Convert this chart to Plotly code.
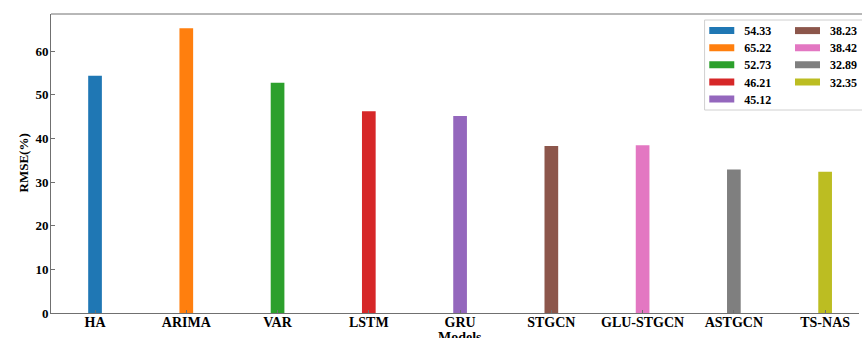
import plotly.graph_objects as go

models = ["HA", "ARIMA", "VAR", "LSTM", "GRU", "STGCN", "GLU-STGCN", "ASTGCN", "TS-NAS"]
rmse = [54.33, 65.22, 52.73, 46.21, 45.12, 38.23, 38.42, 32.89, 32.35]
legend_labels = ["54.33", "65.22", "52.73", "46.21", "45.12", "38.23", "38.42", "32.89", "32.35"]
colors = ["#1f77b4", "#ff7f0e", "#2ca02c", "#d62728", "#9467bd",
          "#8c564b", "#e377c2", "#7f7f7f", "#bcbd22"]
y_ticks = [0, 10, 20, 30, 40, 50, 60]

FONT = "Liberation Serif"
W, H = 862, 338
L, T = 51, 14
BOTTOM = 313
B = H - BOTTOM
plot_w = W - L
plot_h = H - T - B
AX = "#707070"

fig = go.Figure()
for i, (m, v) in enumerate(zip(models, rmse)):
    fig.add_trace(go.Bar(x=[i], y=[v], width=0.15, marker=dict(color=colors[i], line=dict(width=0)),
                         showlegend=False, name=m))

# legend entries: one small legend per entry, laid out in two columns
legend_layouts = {}
row_y0, row_pitch = 30.6, 17.1
for i, lab in enumerate(legend_labels):
    col = 0 if i < 5 else 1
    row = i if i < 5 else i - 5
    lname = "legend" if i == 0 else f"legend{i+1}"
    fig.add_trace(go.Scatter(x=[None], y=[None], mode="lines", name=lab,
                             line=dict(color=colors[i], width=7, dash="25px,200px"),
                             showlegend=True, legend=lname))
    lx = (706.7 - L) / plot_w if col == 0 else (793.0 - L) / plot_w
    ly = (BOTTOM - (row_y0 + row_pitch * row)) / plot_h
    legend_layouts[lname] = dict(x=lx, y=ly, xanchor="left", yanchor="middle",
                                 bgcolor="rgba(0,0,0,0)", borderwidth=0,
                                 font=dict(family=FONT, size=12, color="black", weight="bold"),
                                 itemclick=False, itemdoubleclick=False)

fig.update_layout(**legend_layouts)

xmin, xmax_full = -0.4825, 8.4825
full_w = 821.2
xmax_vis = xmin + (xmax_full - xmin) * plot_w / full_w

fig.update_layout(
    width=W, height=H,
    margin=dict(l=L, r=0, t=T, b=B, pad=0),
    plot_bgcolor="white", paper_bgcolor="white",
    barmode="overlay",
    font=dict(family=FONT, size=14, color="black", weight="bold"),
    xaxis=dict(range=[xmin, xmax_vis], tickmode="array", tickvals=list(range(len(models))),
               ticktext=models, ticks="inside", ticklen=3, tickwidth=1, tickcolor=AX,
               showline=True, linecolor=AX, linewidth=1, showgrid=False, zeroline=False,
               ticklabelstandoff=-4,
               tickfont=dict(family=FONT, size=14, color="black", weight="bold")),
    yaxis=dict(range=[0, 68.48], tickmode="array", tickvals=y_ticks,
               ticktext=[str(t) for t in y_ticks], ticks="inside", ticklen=3.5, tickwidth=1,
               tickcolor=AX, showline=True, linecolor=AX, linewidth=1, showgrid=False,
               zeroline=False, ticklabelstandoff=-1,
               tickfont=dict(family=FONT, size=13, color="black", weight="bold")),
    shapes=[
        dict(type="line", xref="paper", yref="paper", x0=0, x1=1.02, y0=1, y1=1,
             line=dict(color=AX, width=1)),
        dict(type="rect", xref="paper", yref="paper",
             x0=(707 - L) / plot_w, x1=1.03,
             y0=(BOTTOM - 110) / plot_h, y1=(BOTTOM - 20) / plot_h,
             line=dict(color="#d0d0d0", width=1), fillcolor="rgba(255,255,255,0.8)", layer="above"),
    ],
    annotations=[
        dict(text="Models", xref="x", yref="paper", x=(xmin + xmax_full) / 2, y=0,
             xanchor="center", yanchor="top", yshift=-15, showarrow=False,
             font=dict(family=FONT, size=14, color="black", weight="bold")),
        dict(text="RMSE(%)", xref="paper", yref="paper", x=0, y=0.5, textangle=-90,
             xanchor="center", yanchor="middle", xshift=-(51 - 23), showarrow=False,
             font=dict(family=FONT, size=13, color="black", weight="bold")),
    ],
)

fig.write_html(
    "out.html",
    config={"displayModeBar": False, "staticPlot": True},
    post_script="document.body.style.margin='0';document.body.style.overflow='hidden';",
)
